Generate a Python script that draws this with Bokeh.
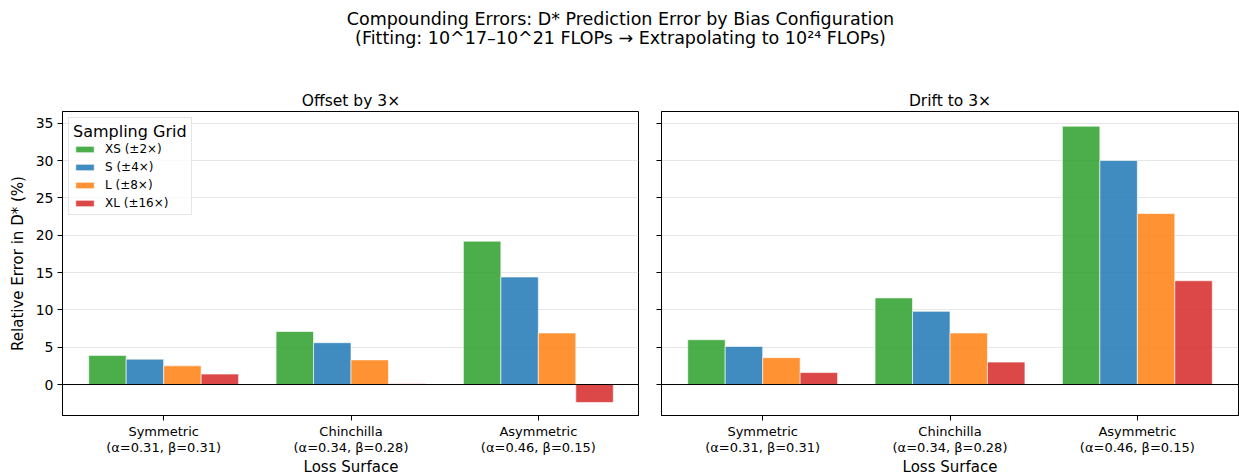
from bokeh.plotting import figure
from bokeh.layouts import column, row
from bokeh.models import (ColumnDataSource, Span, Legend, LegendItem, FixedTicker,
                          Range1d, CustomJSTickFormatter)
from bokeh.core.properties import value
from bokeh.embed import file_html
from bokeh.resources import INLINE

FONT = "DejaVu Sans"

# Loss surfaces on the x axis
surfaces = ["Symmetric", "Chinchilla", "Asymmetric"]
surface_params = ["(α=0.31, β=0.31)", "(α=0.34, β=0.28)", "(α=0.46, β=0.15)"]

# Sampling grids (one bar per grid per surface)
grids = ["XS (±2×)", "S (±4×)", "L (±8×)", "XL (±16×)"]
grid_colors = ["#2ca02c", "#1f77b4", "#ff7f0e", "#d62728"]

# Relative error in D* (%) for each bias configuration
offset_xs = [3.9, 7.1, 19.2]
offset_s = [3.4, 5.6, 14.4]
offset_l = [2.5, 3.3, 6.9]
offset_xl = [1.4, 0.1, -2.4]

drift_xs = [6.0, 11.6, 34.6]
drift_s = [5.1, 9.8, 30.0]
drift_l = [3.6, 6.9, 22.9]
drift_xl = [1.6, 3.0, 13.9]

panel_titles = ["Offset by 3×", "Drift to 3×"]

BAR_W = 0.2
offsets = [-0.3, -0.1, 0.1, 0.3]

y_ticks = [0, 5, 10, 15, 20, 25, 30, 35]


def make_panel(title, series, show_ylabels, show_legend):
    p = figure(
        frame_width=577, frame_height=304,
        x_range=Range1d(-0.54, 2.54), y_range=Range1d(-4.15, 36.57),
        output_backend="svg", toolbar_location=None,
        min_border_top=31, min_border_bottom=59,
        min_border_left=62 if show_ylabels else 22,
        min_border_right=0 if show_ylabels else 1,
        title=title,
    )
    p.title.align = "center"
    p.title.text_font = FONT
    p.title.text_font_size = "15.5px"
    p.title.text_font_style = "normal"
    p.title.text_color = "black"
    p.title.standoff = 4

    p.outline_line_color = "black"
    p.outline_line_width = 1
    p.background_fill_color = "white"
    p.border_fill_color = "white"

    p.xgrid.visible = False
    p.ygrid.grid_line_color = "#b0b0b0"
    p.ygrid.grid_line_alpha = 0.3
    p.ygrid.grid_line_width = 1
    p.ygrid.ticker = FixedTicker(ticks=y_ticks)

    # x axis: positions 0..2 labelled with surface name and its exponents
    p.xaxis.ticker = FixedTicker(ticks=list(range(len(surfaces))))
    p.xaxis.major_label_overrides = {
        i: f"{s}\n{a}" for i, (s, a) in enumerate(zip(surfaces, surface_params))
    }
    p.xaxis.axis_label = "Loss Surface"
    p.xaxis.minor_tick_line_color = None

    p.yaxis.ticker = FixedTicker(ticks=y_ticks)
    p.yaxis.minor_tick_line_color = None
    if show_ylabels:
        p.yaxis.axis_label = "Relative Error in D* (%)"
    else:
        # shared y scale: ticks only, no labels
        p.yaxis.formatter = CustomJSTickFormatter(code="return ''")
        p.yaxis.major_label_standoff = 0

    for ax in (p.xaxis[0], p.yaxis[0]):
        ax.axis_line_color = "black"
        ax.major_tick_line_color = "black"
        ax.major_tick_out = 5
        ax.major_tick_in = 0
        ax.axis_label_text_font = FONT
        ax.axis_label_text_font_size = "15px"
        ax.axis_label_text_font_style = "normal"
        ax.axis_label_text_color = "black"
        ax.major_label_text_font = FONT
        ax.major_label_text_color = "black"
    p.xaxis.major_label_text_font_size = "13px"
    p.xaxis.major_label_text_line_height = 1.1
    p.xaxis.major_label_standoff = 3
    p.xaxis.axis_label_standoff = 0
    if show_ylabels:
        p.yaxis.major_label_text_font_size = "14px"
        p.yaxis.major_label_standoff = 4
        p.yaxis.axis_label_standoff = 6

    items = []
    for vals, name, color, off in zip(series, grids, grid_colors, offsets):
        src = ColumnDataSource(dict(
            x=[i + off for i in range(len(vals))],
            top=vals,
        ))
        r = p.vbar(x="x", top="top", bottom=0, width=BAR_W, source=src,
                   fill_color=color, fill_alpha=0.85,
                   line_color="white", line_alpha=0.6, line_width=1)
        items.append(LegendItem(label=name, renderers=[r]))

    p.add_layout(Span(location=0, dimension="width", line_color="black",
                      line_width=1))

    if show_legend:
        legend = Legend(items=items, location="top_left")
        legend.title = "Sampling Grid"
        legend.title_text_font = FONT
        legend.title_text_font_size = "16px"
        legend.title_text_font_style = "normal"
        legend.title_text_color = "black"
        legend.title_standoff = 1
        legend.label_text_font = FONT
        legend.label_text_font_size = "12px"
        legend.label_text_color = "black"
        legend.label_height = 13
        legend.glyph_height = 8
        legend.glyph_width = 23
        legend.label_standoff = 9
        legend.spacing = 4
        legend.padding = 4
        legend.margin = 6
        legend.border_line_color = "#cccccc"
        legend.border_line_width = 1
        legend.background_fill_alpha = 0.8
        p.add_layout(legend)
    return p


left = make_panel(panel_titles[0], [offset_xs, offset_s, offset_l, offset_xl], True, True)
right = make_panel(panel_titles[1], [drift_xs, drift_s, drift_l, drift_xl], False, False)

# Figure-wide title drawn as text in a bare strip above the panels
head = figure(width=1239, height=80, x_range=Range1d(0, 1239), y_range=Range1d(80, 0),
              output_backend="svg", toolbar_location=None,
              min_border=0)
head.axis.visible = False
head.grid.visible = False
head.outline_line_color = None
head.text(x=[620, 620], y=[18, 37],
          text=["Compounding Errors: D* Prediction Error by Bias Configuration",
                "(Fitting: 10^17–10^21 FLOPs → Extrapolating to 10²⁴ FLOPs)"],
          text_align="center", text_baseline="middle",
          text_font=value(FONT), text_font_size="17.5px", text_color="black")

layout = column(head, row(left, right, spacing=0), spacing=0)

open("out.html", "w").write(file_html(layout, INLINE))
